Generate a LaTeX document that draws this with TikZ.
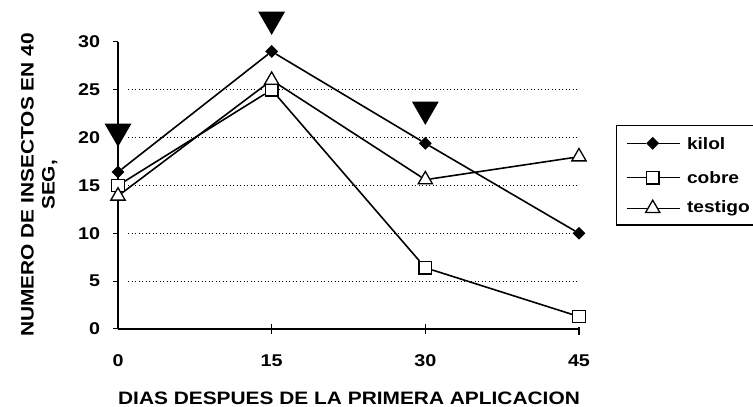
\documentclass[tikz,border=0pt]{standalone}
\usepackage{fontspec}
\setmainfont[FakeStretch=1.16]{Liberation Sans}
\usetikzlibrary{shapes.geometric, positioning}

\tikzset{
	kilolmk/.style={diamond, fill=black, inner sep=0pt, minimum size=13pt},
	cobremk/.style={rectangle, draw=black, fill=white, line width=1.3pt, inner sep=0pt, minimum size=12.5pt},
	testigomk/.style={regular polygon, regular polygon sides=3, draw=black, fill=white, line width=1.3pt, inner sep=0pt, minimum size=16.5pt},
	flecha/.style={regular polygon, regular polygon sides=3, shape border rotate=180, fill=black, inner sep=0pt, minimum size=31pt},
	serie/.style={black, line width=1.6pt},
	rejilla/.style={black, line width=0.7pt, dash pattern=on 1pt off 2.5pt},
	ylab/.style={anchor=east, font=\fontsize{17}{19}\selectfont\bfseries},
	xlab/.style={font=\fontsize{17}{19}\selectfont\bfseries},
	titulo/.style={font=\fontsize{18}{21}\selectfont\bfseries},
	leyenda/.style={anchor=west, font=\fontsize{16.5}{18}\selectfont\bfseries},
}

\begin{document}
\begin{tikzpicture}[x=10.244pt, y=9.57pt]

	\useasboundingbox (-118pt,-78pt) rectangle (635pt,329pt);

%grid
	\draw [rejilla] (1,5) -- (45,5);
	\draw [rejilla] (1,10) -- (45,10);
	\draw [rejilla] (1,15) -- (45,15);
	\draw [rejilla] (1,20) -- (45,20);
	\draw [rejilla] (1,25) -- (45,25);

%axes
	\coordinate [] (O) at (0,0){};
	\coordinate [] (Ytop) at (0,30){};
	\coordinate [] (Xend) at (45,0){};
	\draw [black, line width=1.2pt] (O) -- (Ytop);
	\draw [black, line width=2.4pt] (O) -- (Xend);
	\draw [black, line width=1pt] (-0.5,0) -- (0,0);
	\draw [black, line width=1pt] (-0.5,5) -- (0,5);
	\draw [black, line width=1pt] (-0.5,10) -- (0,10);
	\draw [black, line width=1pt] (-0.5,15) -- (0,15);
	\draw [black, line width=1pt] (-0.5,20) -- (0,20);
	\draw [black, line width=1pt] (-0.5,25) -- (0,25);
	\draw [black, line width=1pt] (-0.5,30) -- (0,30);
	\draw [black, line width=1.2pt] (15,-0.5) -- (15,0.5);
	\draw [black, line width=1.2pt] (30,-0.5) -- (30,0.5);
	\draw [black, line width=1.2pt] (45,-0.6) -- (45,0.2);

%tick labels
	\node [ylab] (y0) at (-1.4,0){0};
	\node [ylab] (y5) at (-1.4,5){5};
	\node [ylab] (y10) at (-1.4,10){10};
	\node [ylab] (y15) at (-1.4,15){15};
	\node [ylab] (y20) at (-1.4,20){20};
	\node [ylab] (y25) at (-1.4,25){25};
	\node [ylab] (y30) at (-1.4,30){30};
	\node [xlab] (x0) at (0,-3.3){0};
	\node [xlab] (x15) at (15,-3.3){15};
	\node [xlab] (x30) at (30,-3.3){30};
	\node [xlab] (x45) at (45,-3.3){45};

%titles
	\node [titulo] (xtitle) at (22.55,-7.2){DIAS DESPUES DE LA PRIMERA APLICACION};
	\node [titulo, rotate=90, align=center] (ytitle) at (-7.7,15.05){NUMERO DE INSECTOS EN 40\\SEG,};

%kilol
	\node [kilolmk] (k0) at (0,16.4){};
	\node [kilolmk] (k15) at (15,29){};
	\node [kilolmk] (k30) at (30,19.4){};
	\node [kilolmk] (k45) at (45,10){};
	\draw [serie] (k0) -- (k15) -- (k30) -- (k45);

%cobre
	\node [cobremk] (c0) at (0,15){};
	\node [cobremk] (c15) at (15,25){};
	\node [cobremk] (c30) at (30,6.4){};
	\node [cobremk] (c45) at (45,1.3){};
	\draw [serie] (c0) -- (c15) -- (c30) -- (c45);

%testigo
	\node [testigomk] (t0) at (0,13.9){};
	\node [testigomk] (t15) at (15,26){};
	\node [testigomk] (t30) at (30,15.6){};
	\node [testigomk] (t45) at (45,18){};
	\draw [serie] (t0) -- (t15) -- (t30) -- (t45);

%application marks
	\node [flecha] (ap0) at (0,20.65){};
	\node [flecha] (ap15) at (15,32.35){};
	\node [flecha] (ap30) at (30,22.95){};

%legend
	\draw [black, line width=1.2pt] (62,21.3) -- (48.7,21.3) -- (48.7,10.87) -- (62,10.87);
	%
	\coordinate [] (lk1) at (49.7,19.4){};
	\node [kilolmk] (lk) at (52.2,19.4){};
	\coordinate [] (lk2) at (54.9,19.4){};
	\draw [serie, line width=1.2pt] (lk1) -- (lk) -- (lk2);
	\node [leyenda] (lkt) at (55.2,19.4){kilol};
	%
	\coordinate [] (lc1) at (49.7,15.8){};
	\node [cobremk] (lc) at (52.2,15.8){};
	\coordinate [] (lc2) at (54.9,15.8){};
	\draw [serie, line width=1.2pt] (lc1) -- (lc) -- (lc2);
	\node [leyenda] (lct) at (55.2,15.8){cobre};
	%
	\coordinate [] (lt1) at (49.7,12.6){};
	\node [testigomk] (lt) at (52.2,12.6){};
	\coordinate [] (lt2) at (54.9,12.6){};
	\draw [serie, line width=1.2pt] (lt1) -- (lt) -- (lt2);
	\node [leyenda] (ltt) at (55.2,12.6){testigo};

\end{tikzpicture}
\end{document}
